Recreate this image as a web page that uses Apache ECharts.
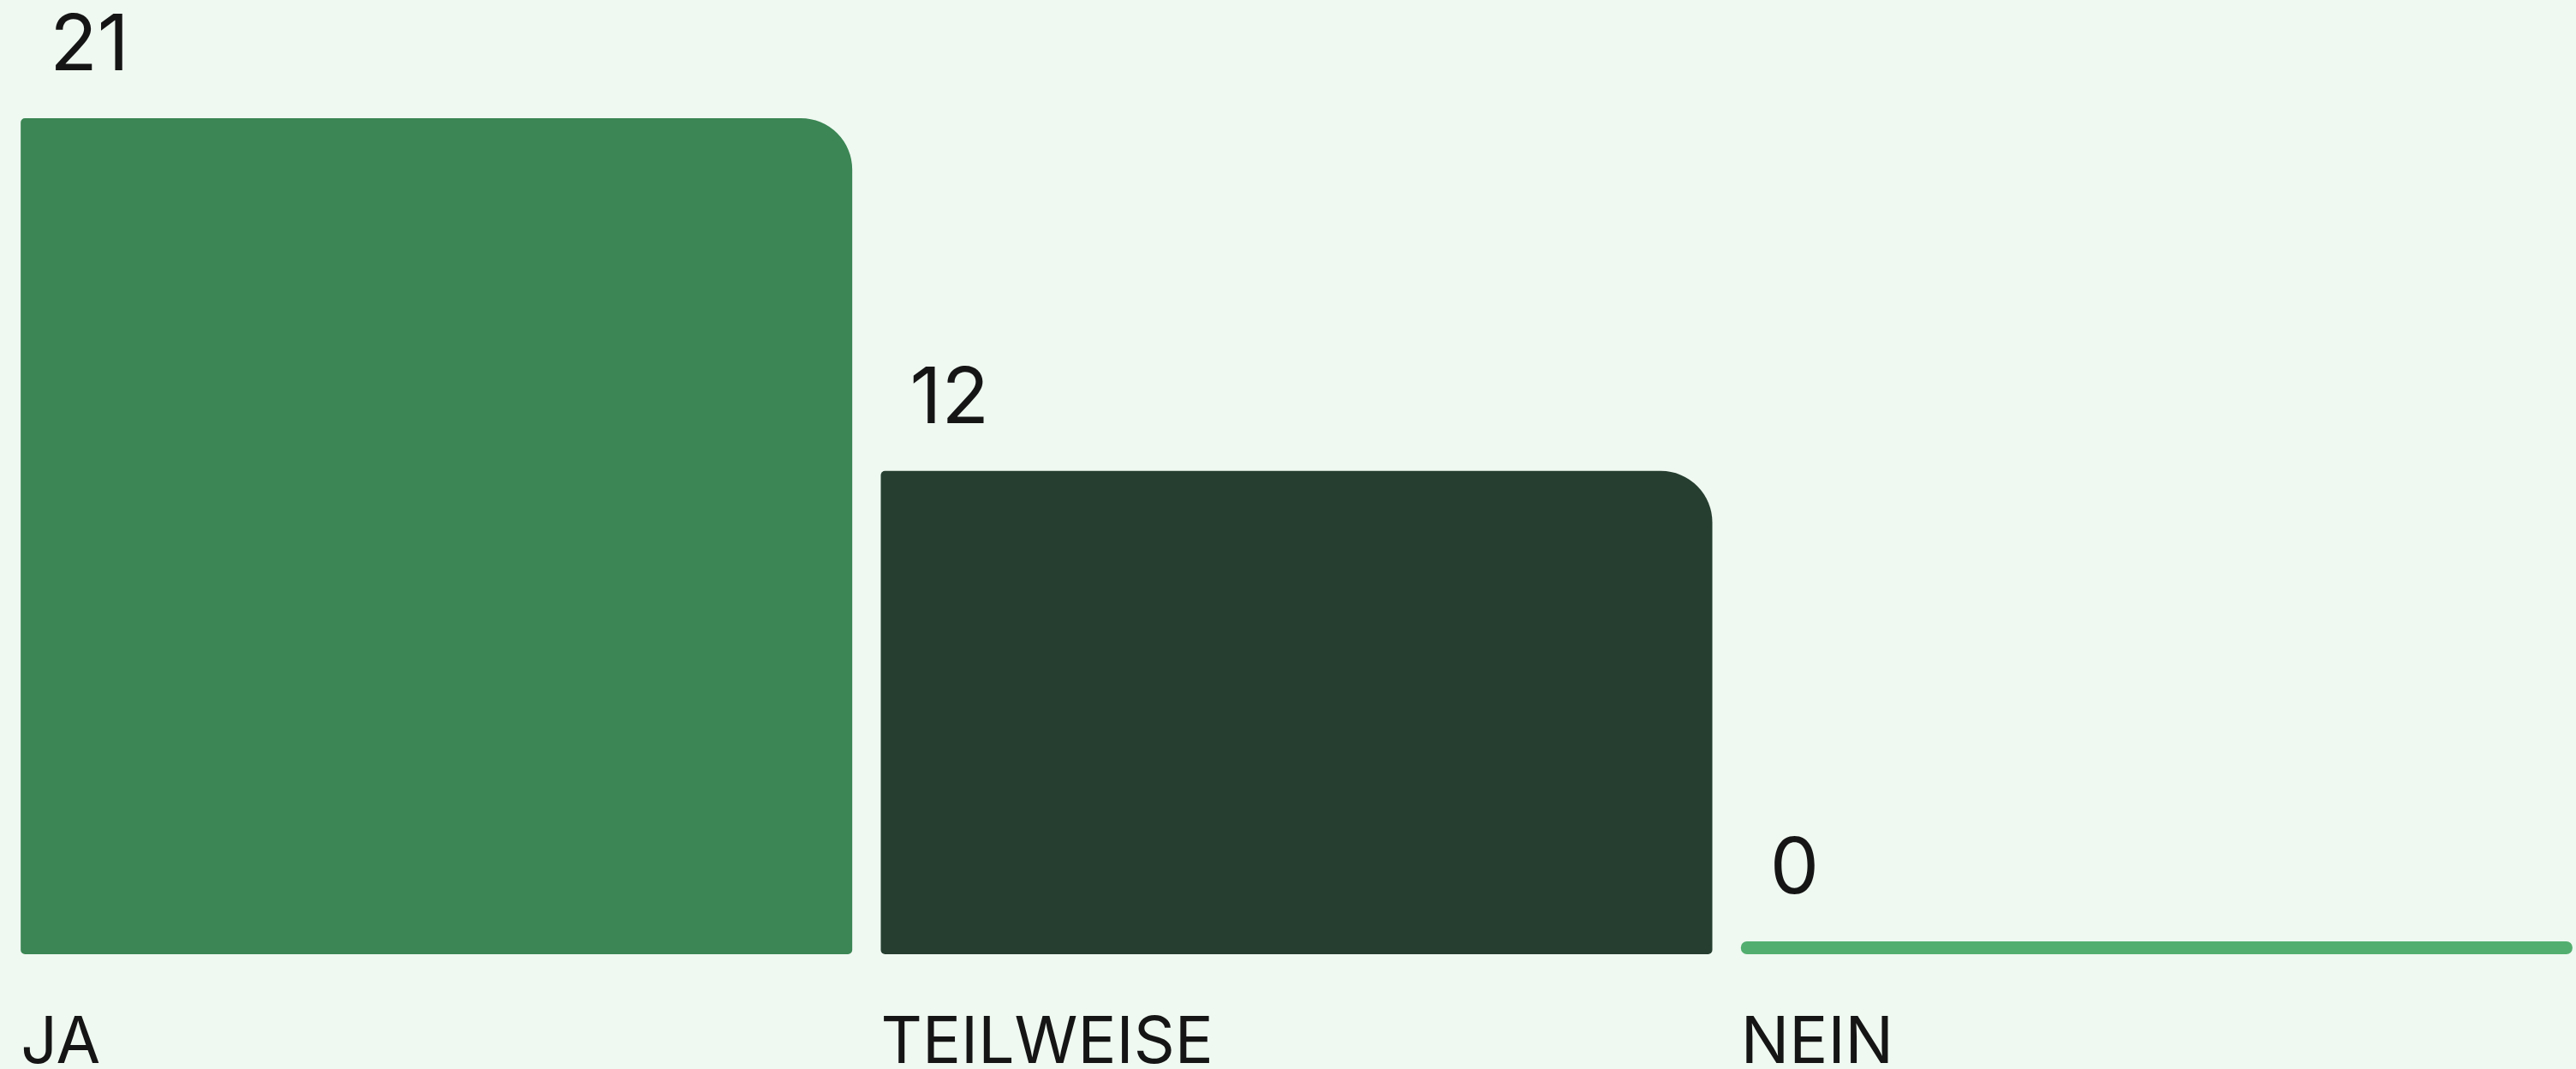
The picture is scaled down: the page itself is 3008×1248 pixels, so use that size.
<!DOCTYPE html>
<html>
<head>
<meta charset="utf-8">
<script src="https://cdn.jsdelivr.net/npm/echarts@6/dist/echarts.min.js"></script>
<style>
html,body{margin:0;padding:0;background:#EFF8F1;}
#chart{width:3008px;height:1248px;}
</style>
</head>
<body>
<div id="chart"></div>
<script>
const categories = ['JA', 'TEILWEISE', 'NEIN'];
const values = [21, 12, 0];
const barColors = ['#3B8654', '#253E2F', '#52AE6F'];

// visual baseline: every bar sits on a 15px strip (value 0 shows as a thin bar)
const BASE = 0.328;

const chart = echarts.init(document.getElementById('chart'));
const seriesData = values.map((v, i) => ({
  value: v + BASE,
  itemStyle: {
    color: barColors[i],
    borderRadius: v === 0 ? [7, 7, 7, 7] : [5, 60, 5, 5]
  }
}));

chart.setOption({
  backgroundColor: '#EFF8F1',
  animation: false,
  grid: { left: 7.5, right: -12.5, top: 138, bottom: 134, containLabel: false, outerBoundsMode: 'none' },
  xAxis: {
    type: 'category',
    data: categories,
    axisLine: { show: false },
    axisTick: { show: false },
    axisLabel: {
      margin: 66,
      formatter: '{a|{value}}',
      align: 'center',
      rich: {
        a: {
          width: 971,
          align: 'left',
          fontFamily: 'Inter',
          fontSize: 75,
          lineHeight: 76,
          color: '#151515'
        }
      }
    }
  },
  yAxis: {
    type: 'value',
    min: 0,
    max: function (e) { return e.max; },
    show: false,
    splitLine: { show: false }
  },
  series: [{
    type: 'bar',
    data: seriesData,
    barWidth: 971,
    label: {
      show: true,
      position: [34, -83],
      align: 'left',
      verticalAlign: 'middle',
      fontFamily: 'Inter',
      fontSize: 91,
      lineHeight: 91,
      color: '#151515',
      formatter: p => String(values[p.dataIndex])
    }
  }]
});
</script>
</body>
</html>
